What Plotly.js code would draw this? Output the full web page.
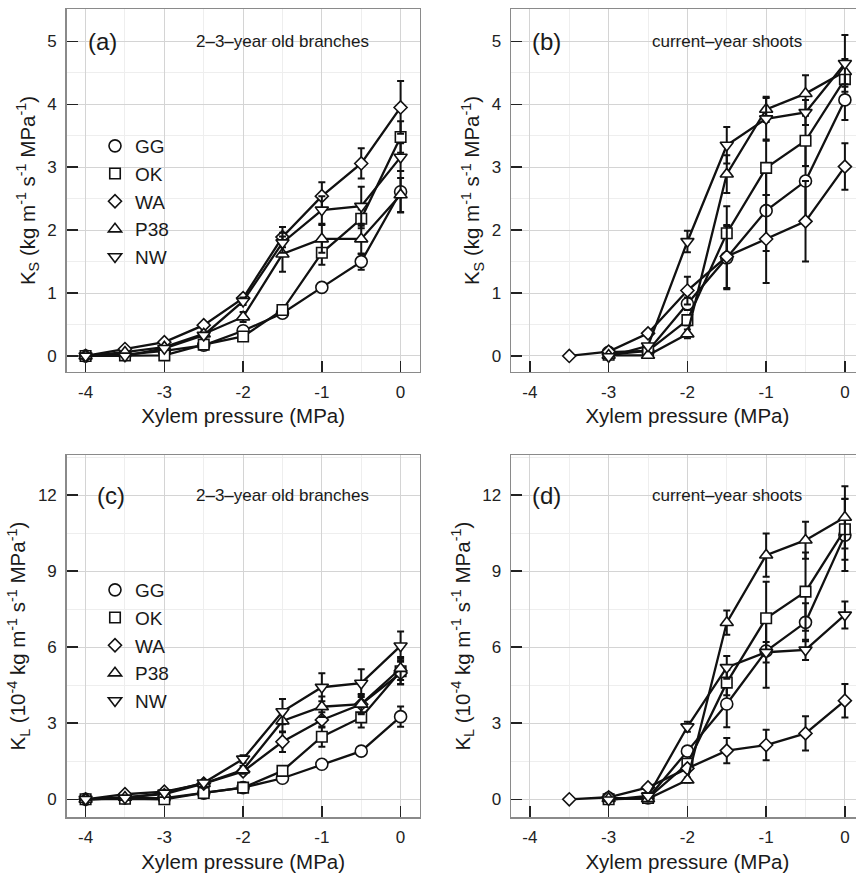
<!DOCTYPE html>
<html>
<head>
<meta charset="utf-8">
<script src="https://cdn.plot.ly/plotly-3.0.1.min.js"></script>
<style>
html,body{margin:0;padding:0;background:#fff;overflow:hidden;}
#chart{width:870px;height:874px;}
</style>
</head>
<body>
<div id="chart"></div>
<script>
// ---------- data ----------
var pressure = [-4, -3.5, -3, -2.5, -2, -1.5, -1, -0.5, 0];
var seriesNames = ['GG', 'OK', 'WA', 'P38', 'NW'];
var xTickVals = [-4, -3, -2, -1, 0];
var xTickText = ['-4', '-3', '-2', '-1', '0'];
var ksTickVals = [0, 1, 2, 3, 4, 5];
var klTickVals = [0, 3, 6, 9, 12];

// (a) Ks, 2-3-year old branches
var ksBranchGG  = [0, 0.02, 0.08, 0.17, 0.40, 0.68, 1.09, 1.50, 2.61];
var ksBranchOK  = [0, 0.01, 0.01, 0.18, 0.31, 0.73, 1.64, 2.18, 3.48];
var ksBranchWA  = [0, 0.11, 0.22, 0.49, 0.92, 1.89, 2.54, 3.06, 3.95];
var ksBranchP38 = [0, 0.06, 0.14, 0.35, 0.62, 1.62, 1.86, 1.86, 2.56];
var ksBranchNW  = [0, 0.00, 0.12, 0.33, 0.87, 1.80, 2.32, 2.38, 3.16];
var ksBranchErrGG  = [0, 0, 0, 0.03, 0.03, 0.05, 0.06, 0.13, 0.33];
var ksBranchErrOK  = [0, 0, 0, 0.03, 0.04, 0.08, 0.19, 0.15, 0.25];
var ksBranchErrWA  = [0, 0, 0, 0.03, 0.05, 0.16, 0.22, 0.24, 0.42];
var ksBranchErrP38 = [0, 0, 0.02, 0.04, 0.08, 0.28, 0.22, 0.24, 0.27];
var ksBranchErrNW  = [0, 0, 0.02, 0.04, 0.06, 0.16, 0.22, 0.31, 0.22];

// (b) Ks, current-year shoots
var ksShootGG  = [null, null, 0.06, 0.08, 0.83, 1.56, 2.31, 2.78, 4.07];
var ksShootOK  = [null, null, 0.02, 0.08, 0.57, 1.95, 2.99, 3.42, 4.40];
var ksShootWA  = [null, 0.00, 0.07, 0.36, 1.04, 1.58, 1.86, 2.14, 3.01];
var ksShootP38 = [null, null, 0.01, 0.01, 0.35, 2.89, 3.92, 4.17, 4.52];
var ksShootNW  = [null, null, -0.01, 0.16, 1.82, 3.35, 3.77, 3.87, 4.65];
var ksShootErrGG  = [0, 0, 0.02, 0.03, 0.10, 0.50, 0.64, 0.60, 0.32];
var ksShootErrOK  = [0, 0, 0.02, 0.03, 0.08, 0.43, 0.43, 0.40, 0.12];
var ksShootErrWA  = [0, 0, 0.02, 0.04, 0.22, 0.50, 0.70, 0.64, 0.37];
var ksShootErrP38 = [0, 0, 0.02, 0.02, 0.07, 0.30, 0.20, 0.29, 0.20];
var ksShootErrNW  = [0, 0, 0.02, 0.03, 0.17, 0.29, 0.33, 0.20, 0.45];

// (c) KL, 2-3-year old branches
var klBranchGG  = [0, 0.05, 0.05, 0.24, 0.46, 0.83, 1.38, 1.90, 3.26];
var klBranchOK  = [0, 0.02, 0.00, 0.25, 0.46, 1.12, 2.47, 3.23, 5.05];
var klBranchWA  = [0, 0.20, 0.30, 0.62, 1.10, 2.27, 3.13, 3.75, 4.98];
var klBranchP38 = [0, 0.08, 0.20, 0.62, 1.16, 3.09, 3.65, 3.75, 5.16];
var klBranchNW  = [0, 0.05, 0.25, 0.65, 1.59, 3.46, 4.42, 4.58, 6.05];
var klBranchErrGG  = [0, 0, 0, 0.05, 0.08, 0.10, 0.12, 0.15, 0.40];
var klBranchErrOK  = [0, 0, 0, 0.06, 0.08, 0.15, 0.40, 0.40, 0.50];
var klBranchErrWA  = [0, 0, 0, 0.08, 0.10, 0.40, 0.30, 0.35, 0.45];
var klBranchErrP38 = [0, 0, 0, 0.08, 0.15, 0.45, 0.40, 0.40, 0.45];
var klBranchErrNW  = [0, 0, 0, 0.08, 0.15, 0.50, 0.55, 0.55, 0.57];

// (d) KL, current-year shoots
var klShootGG  = [null, null, 0.05, 0.05, 1.90, 3.76, 5.85, 6.98, 10.42];
var klShootOK  = [null, null, 0.00, 0.05, 1.40, 4.60, 7.14, 8.19, 10.65];
var klShootWA  = [null, 0.00, 0.08, 0.47, 1.22, 1.92, 2.14, 2.60, 3.89];
var klShootP38 = [null, null, 0.03, 0.02, 0.76, 6.97, 9.63, 10.22, 11.12];
var klShootNW  = [null, null, -0.02, 0.13, 2.86, 5.20, 5.80, 5.89, 7.27];
var klShootErrGG  = [0, 0, 0.03, 0.03, 0.15, 0.92, 1.45, 0.75, 1.42];
var klShootErrOK  = [0, 0, 0.03, 0.03, 0.15, 0.50, 1.44, 1.54, 1.20];
var klShootErrWA  = [0, 0, 0.03, 0.06, 0.12, 0.50, 0.60, 0.68, 0.66];
var klShootErrP38 = [0, 0, 0.03, 0.03, 0.10, 0.48, 0.85, 0.73, 1.23];
var klShootErrNW  = [0, 0, 0.03, 0.03, 0.20, 0.45, 0.40, 0.40, 0.53];

// ---------- styling ----------
var symbols = {GG: 'circle', OK: 'square', WA: 'diamond', P38: 'triangle-up', NW: 'triangle-down'};
var sizes = {GG: 12, OK: 10.5, WA: 10, P38: 11.5, NW: 11.5};
var FONT = 'Liberation Sans, Arial, Helvetica, sans-serif';

var panels = [
  {xa: 'x',  ya: 'y',  data: [ksBranchGG, ksBranchOK, ksBranchWA, ksBranchP38, ksBranchNW],
   err: [ksBranchErrGG, ksBranchErrOK, ksBranchErrWA, ksBranchErrP38, ksBranchErrNW]},
  {xa: 'x2', ya: 'y2', data: [ksShootGG, ksShootOK, ksShootWA, ksShootP38, ksShootNW],
   err: [ksShootErrGG, ksShootErrOK, ksShootErrWA, ksShootErrP38, ksShootErrNW]},
  {xa: 'x3', ya: 'y3', data: [klBranchGG, klBranchOK, klBranchWA, klBranchP38, klBranchNW],
   err: [klBranchErrGG, klBranchErrOK, klBranchErrWA, klBranchErrP38, klBranchErrNW]},
  {xa: 'x4', ya: 'y4', data: [klShootGG, klShootOK, klShootWA, klShootP38, klShootNW],
   err: [klShootErrGG, klShootErrOK, klShootErrWA, klShootErrP38, klShootErrNW]}
];

var traces = [];
panels.forEach(function (p) {
  seriesNames.forEach(function (name, i) {
    traces.push({
      type: 'scatter', mode: 'lines+markers', name: name, showlegend: false,
      x: pressure, y: p.data[i], xaxis: p.xa, yaxis: p.ya,
      line: {color: '#111', width: 2.3},
      marker: {symbol: symbols[name], size: sizes[name], color: '#fff', line: {color: '#111', width: 1.6}},
      error_y: {type: 'data', array: p.err[i], visible: true, color: '#111', thickness: 2, width: 3.5},
      cliponaxis: false, hoverinfo: 'skip'
    });
  });
});
// legend entries (markers only) for panels (a) and (c)
[['legend', 'x', 'y'], ['legend2', 'x3', 'y3']].forEach(function (lg) {
  seriesNames.forEach(function (name) {
    traces.push({
      type: 'scatter', mode: 'markers', name: name, legend: lg[0], showlegend: true,
      x: [null], y: [null], xaxis: lg[1], yaxis: lg[2],
      marker: {symbol: symbols[name], size: sizes[name], color: '#fff', line: {color: '#111', width: 1.6}}
    });
  });
});

var W = 870, H = 874;
function xdom(left) { return [left / W, (left + 352.8) / W]; }
function ydom(top, bottom) { return [(H - bottom) / H, (H - top) / H]; }

function xaxis(dom, anchor) {
  return {
    domain: dom, anchor: anchor, range: [-4.24, 0.24],
    tickvals: xTickVals, ticktext: xTickText,
    ticks: 'inside', ticklen: 11, tickwidth: 1.5, tickcolor: '#222',
    showline: true, mirror: true, linecolor: '#8a8a8a', linewidth: 1.5,
    showgrid: true, gridcolor: '#d4d4d4', gridwidth: 1, zeroline: false,
    minor: {dtick: 0.5, tick0: 0, showgrid: true, gridcolor: '#eeeeee', gridwidth: 1, ticks: ''},
    tickfont: {family: FONT, size: 17, color: '#222'},
    ticklabelstandoff: 4,
    title: {text: 'Xylem pressure (MPa)', font: {family: FONT, size: 20.5, color: '#1a1a1a'}, standoff: 8},
    fixedrange: true
  };
}
function yaxis(dom, anchor, range, vals, minorD, titleText) {
  return {
    domain: dom, anchor: anchor, range: range,
    tickvals: vals, ticktext: vals.map(String),
    ticks: 'inside', ticklen: 11, tickwidth: 1.5, tickcolor: '#222',
    showline: true, mirror: true, linecolor: '#8a8a8a', linewidth: 1.5,
    showgrid: true, gridcolor: '#d4d4d4', gridwidth: 1, zeroline: false,
    minor: {dtick: minorD, tick0: 0, showgrid: true, gridcolor: '#eeeeee', gridwidth: 1, ticks: ''},
    tickfont: {family: FONT, size: 17, color: '#222'},
    ticklabelstandoff: 5,
    title: {text: titleText, font: {family: FONT, size: 20.5, color: '#1a1a1a'}, standoff: 6},
    fixedrange: true
  };
}

var ksTitle = 'K<sub>S</sub> (kg m<sup>-1</sup> s<sup>-1</sup> MPa<sup>-1</sup>)';
var klTitle = 'K<sub>L</sub> (10<sup>-4</sup> kg m<sup>-1</sup> s<sup>-1</sup> MPa<sup>-1</sup>)';

var topRow = ydom(9.3, 371.7), botRow = ydom(455, 817.3);
var ksRange = [-0.25, 5.51], klRange = [-0.71, 13.58];

function ann(xref, yref, x, y, text, size, anchor) {
  return {xref: xref, yref: yref, x: x, y: y, text: text, showarrow: false,
          xanchor: anchor, yanchor: 'middle', font: {family: FONT, size: size, color: '#1a1a1a'}};
}

var layout = {
  width: W, height: H, margin: {l: 0, r: 0, t: 0, b: 0},
  paper_bgcolor: '#fff', plot_bgcolor: '#fff', showlegend: true,
  xaxis: xaxis(xdom(66.7), 'y'),
  yaxis: yaxis(topRow, 'x', ksRange, ksTickVals, 0.5, ksTitle),
  xaxis2: xaxis(xdom(511), 'y2'),
  yaxis2: yaxis(topRow, 'x2', ksRange, ksTickVals, 0.5, ksTitle),
  xaxis3: xaxis(xdom(66.7), 'y3'),
  yaxis3: yaxis(botRow, 'x3', klRange, klTickVals, 1.5, klTitle),
  xaxis4: xaxis(xdom(511), 'y4'),
  yaxis4: yaxis(botRow, 'x4', klRange, klTickVals, 1.5, klTitle),
  legend: {x: 95 / W, xanchor: 'left', y: (H - 127) / H, yanchor: 'top', bgcolor: 'rgba(0,0,0,0)',
           font: {family: FONT, size: 19, color: '#1a1a1a'}, itemsizing: 'trace', tracegroupgap: 0},
  legend2: {x: 95 / W, xanchor: 'left', y: (H - 571) / H, yanchor: 'top', bgcolor: 'rgba(0,0,0,0)',
           font: {family: FONT, size: 19, color: '#1a1a1a'}, itemsizing: 'trace', tracegroupgap: 0},
  annotations: [
    ann('x', 'y', -4.0, 5, '(a)', 24, 'left'),
    ann('x', 'y', -1.5, 5, '2\u20133\u2013year old branches', 17, 'center'),
    ann('x2', 'y2', -4.0, 5, '(b)', 24, 'left'),
    ann('x2', 'y2', -1.5, 5, 'current\u2013year shoots', 17, 'center'),
    ann('x3', 'y3', -3.88, 12, '(c)', 24, 'left'),
    ann('x3', 'y3', -1.5, 12, '2\u20133\u2013year old branches', 17, 'center'),
    ann('x4', 'y4', -4.0, 12, '(d)', 24, 'left'),
    ann('x4', 'y4', -1.5, 12, 'current\u2013year shoots', 17, 'center')
  ]
};

Plotly.newPlot('chart', traces, layout, {displayModeBar: false, staticPlot: true});
</script>
</body>
</html>
